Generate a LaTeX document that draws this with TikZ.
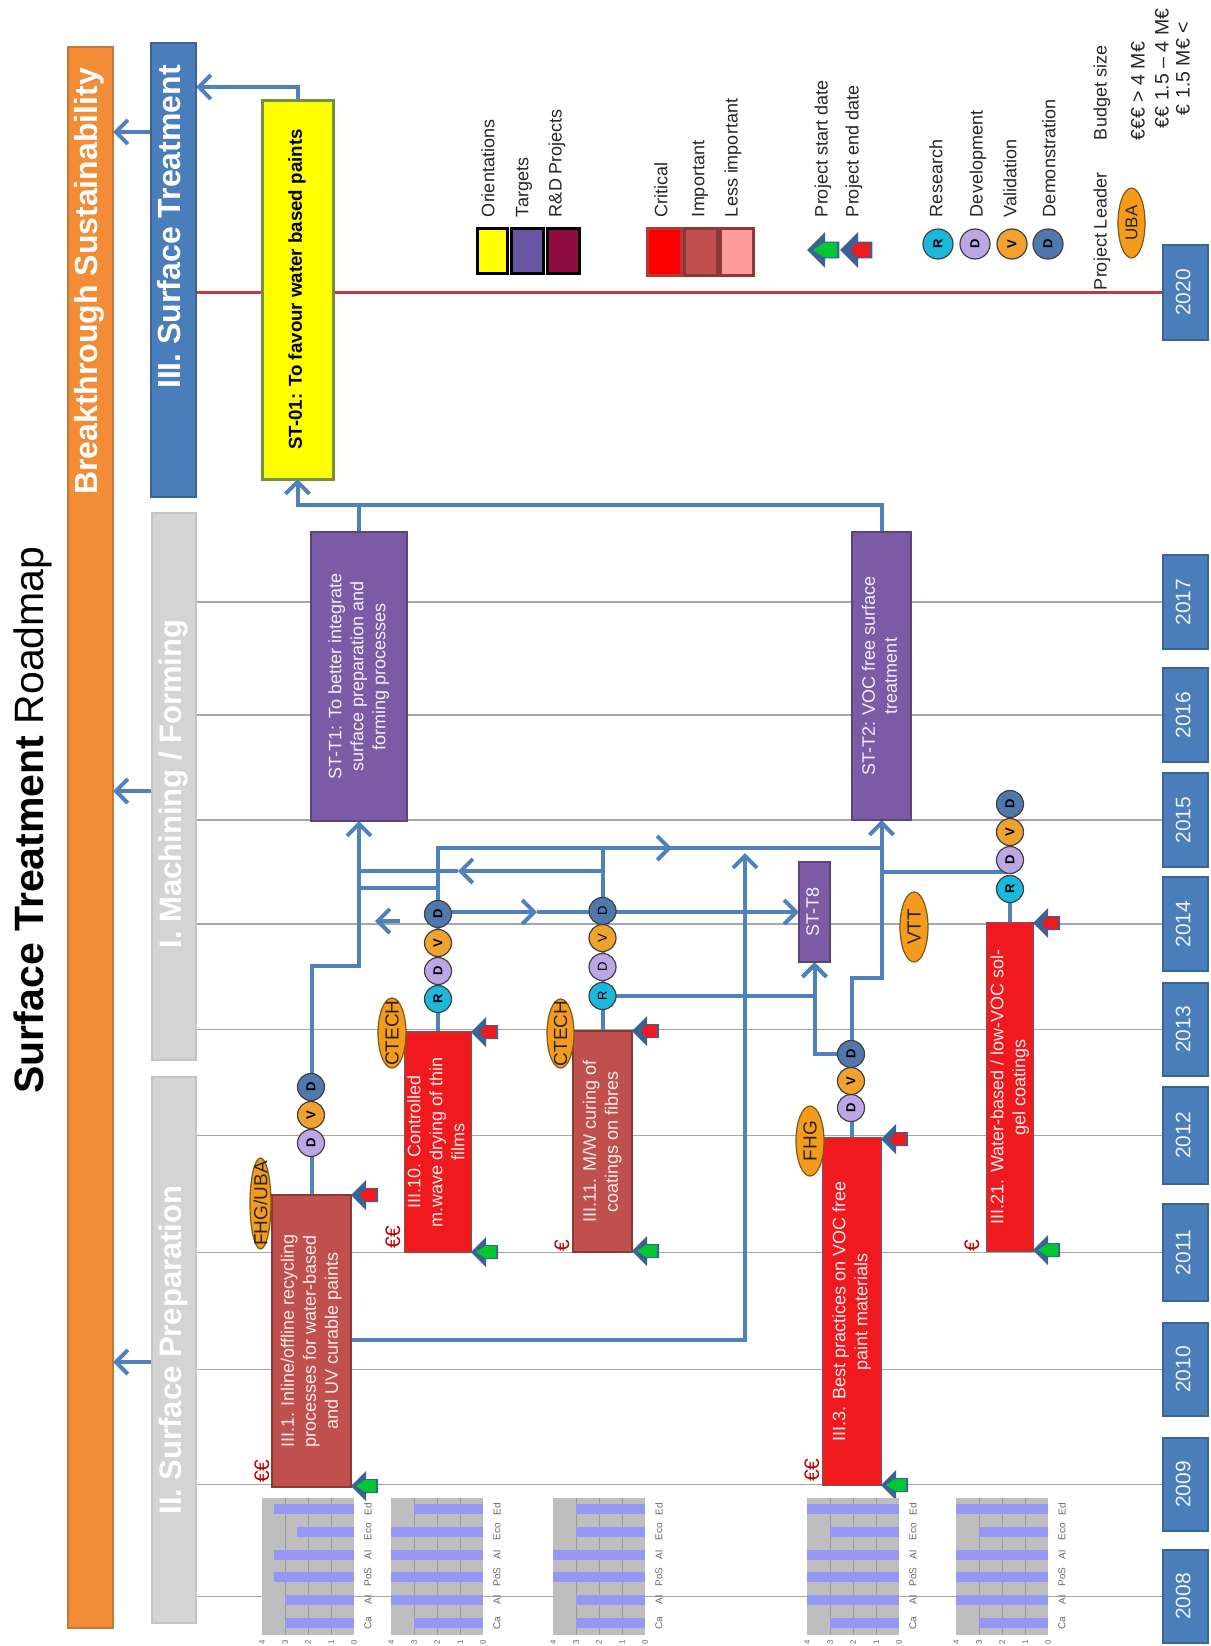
\documentclass[tikz,border=0pt]{standalone}
\usepackage{fontspec}
\usepackage{graphicx}
\setmainfont{Liberation Sans}
\usetikzlibrary{arrows.meta,shapes.geometric,backgrounds}
\definecolor{cblue}{HTML}{4F81BD}
\definecolor{yrblue}{HTML}{4A7EBB}
\definecolor{yrline}{HTML}{3A6491}
\definecolor{corange}{HTML}{F28C36}
\definecolor{corangeb}{HTML}{BF7A3A}
\definecolor{cgrey}{HTML}{D4D4D4}
\definecolor{cgreyb}{HTML}{C4C4C4}
\definecolor{cpurple}{HTML}{7B5BA5}
\definecolor{cpurpleb}{HTML}{5A4478}
\definecolor{cred}{HTML}{F01A1E}
\definecolor{credb}{HTML}{B23A3A}
\definecolor{cmid}{HTML}{C0504D}
\definecolor{cmidb}{HTML}{8C3836}
\definecolor{cpale}{HTML}{FF9A9E}
\definecolor{cyel}{HTML}{FFFF00}
\definecolor{colive}{HTML}{76923C}
\definecolor{cwine}{HTML}{900C3F}
\definecolor{cviol}{HTML}{6A55A5}
\definecolor{loval}{HTML}{F59B1C}
\definecolor{lovalb}{HTML}{7A5A18}
\definecolor{ccyan}{HTML}{1CB8DC}
\definecolor{clil}{HTML}{BCA6E4}
\definecolor{cdark}{HTML}{5078AC}
\definecolor{cvio}{HTML}{F0A22E}
\definecolor{chbg}{HTML}{BEBEBE}
\definecolor{chgr}{HTML}{9A9A9A}
\definecolor{chbar}{HTML}{9696F5}
\definecolor{arrowb}{HTML}{3A6391}
\definecolor{garrow}{HTML}{00C832}
\definecolor{gridc}{HTML}{A6A6A6}
\definecolor{redline}{HTML}{D0343A}
\newcommand\rt[1]{\rotatebox{90}{\begin{tabular}{@{}c@{}}#1\end{tabular}}}
\newcommand\zt[1]{\makebox[0pt][c]{\raisebox{-.5\height}[0pt][0pt]{\rotatebox{90}{#1}}}}
\newcommand\myrect[7]{\node[#6,minimum width={(#4-#2)*1pt},minimum height={(#5-#3)*1pt}] (#1) at ({(#2+#4)/2},{(#3+#5)/2}) {#7};}
\newcommand\lcirc[5]{\node[lettercirc,#4] (#1) at (#2,#3) {\rotatebox{90}{#5}};}
\newcommand\arrowicon[5]{% x y scale inner-colour inner-extent
  \begin{scope}[shift={(#1,#2)},scale=#3]
    \fill[arrowb] (0,0) -- (15,-15) -- (15,-7) -- (27,-7) -- (27,7) -- (15,7) -- (15,15) -- cycle;
    \fill[#4] (#5,0) -- (14,-6) -- (25,-6) -- (25,6) -- (14,6) -- cycle;
  \end{scope}}
\newcommand\startend[3]{\arrowicon{#1}{#2}{1}{garrow}{5}\arrowicon{#1}{#3}{1}{cred}{9}}
\newcommand\ratechart[7]{%
  \fill[chbg] (#1,1498) rectangle ({#1+92},1635);
  \foreach \k in {1,2,3} \draw[chgr,line width=1pt] ({#1+\k*23},1498) -- ({#1+\k*23},1635);
  \foreach \vv/\lab/\yy [count=\i] in {#2/Ed/1509,#3/Eco/1532,#4/Al/1555,#5/PoS/1577,#6/Al/1600,#7/Ca/1623}{
    \fill[chbar] ({#1+92-\vv*23},{\yy-5}) rectangle ({#1+92},{\yy+5});
    \node[charttxt] (lab#1x\i) at ({#1+106},\yy) {\rotatebox{90}{\lab}};
  }
  \foreach \k in {0,...,4}{
    \pgfmathtruncatemacro\kv{4-\k}
    \node[axistxt] (ax#1x\k) at ({#1+\k*23},1642) {\rotatebox{90}{\kv}};
  }}
\tikzset{
  base/.style={inner sep=0pt,outer sep=0pt},
  mainbar/.style={base,draw=#1,line width=2pt,text=white,font=\fontsize{32}{36}\selectfont\bfseries},
  yearbox/.style={base,fill=yrblue,draw=yrline,line width=2pt,text=white!90!yrblue,font=\fontsize{21}{24}\selectfont},
  prj/.style={base,line width=2.5pt,text=white!92!red,font=\fontsize{18}{22}\selectfont},
  critical/.style={prj,fill=cred,draw=credb},
  important/.style={prj,fill=cmid,draw=cmidb},
  targetbox/.style={base,fill=cpurple,draw=cpurpleb,line width=2.5pt,text=white!90!cpurple,font=\fontsize{18}{22}\selectfont},
  swatch/.style={base,line width=3pt},
  lettercirc/.style={circle,base,minimum size=27pt,draw=black!75,line width=1.2pt,font=\fontsize{13}{14}\selectfont\bfseries},
  ccR/.style={fill=ccyan}, ccD/.style={fill=clil}, ccV/.style={fill=cvio}, ccX/.style={fill=cdark},
  leader/.style={ellipse,base,fill=loval,draw=lovalb,line width=1.2pt,font=\fontsize{19}{20}\selectfont,text=black!85},
  euro/.style={base,text=red!75!black,font=\fontsize{21}{22}\selectfont},
  legtxt/.style={base,anchor=south,text=black!85,font=\fontsize{18}{20}\selectfont},
  budgettxt/.style={legtxt,font=\fontsize{19.5}{21}\selectfont},
  charttxt/.style={base,text=black!60,font=\fontsize{10}{11}\selectfont},
  axistxt/.style={base,text=black!60,font=\fontsize{8}{8}\selectfont},
  conn/.style={cblue,line width=4pt},
  connarrow/.style={conn,-{Straight Barb[length=12pt,width=24pt,line width=4pt]}},
  gridline/.style={gridc,line width=1.6pt},
}
\begin{document}
\begin{tikzpicture}[x=1pt,y=-1pt]
\useasboundingbox (0,0) rectangle (1210,1646);
% title and main bars
\node[base,font=\fontsize{41}{44}\selectfont] (title) at (33,820) {\rotatebox{90}{\textbf{Surface Treatment} Roadmap}};
\myrect{bs}{68}{47}{113}{1628}{mainbar=corangeb,fill=corange}{\rt{\hspace*{1112pt}Breakthrough Sustainability}}
\myrect{st}{151}{43}{196}{497}{mainbar=yrline,fill=yrblue}{\rt{\hspace*{86pt}III. Surface Treatment}}
\myrect{mf}{152}{513}{196}{1060}{mainbar=cgreyb,fill=cgrey,font=\fontsize{31}{36}\selectfont\bfseries}{\rt{\hspace*{5pt}I. Machining / Forming}}
\myrect{sp}{152}{1077}{196}{1623}{mainbar=cgreyb,fill=cgrey,font=\fontsize{31}{36}\selectfont\bfseries}{\rt{II. Surface Preparation}}
% years
\myrect{y2008}{1163}{1550}{1208}{1643}{yearbox}{\rt{2008}}
\myrect{y2009}{1163}{1438}{1208}{1531}{yearbox}{\rt{2009}}
\myrect{y2010}{1163}{1323}{1208}{1416}{yearbox}{\rt{2010}}
\myrect{y2011}{1163}{1204}{1208}{1301}{yearbox}{\rt{2011}}
\myrect{y2012}{1163}{1087}{1208}{1184}{yearbox}{\rt{2012}}
\myrect{y2013}{1163}{983}{1208}{1076}{yearbox}{\rt{2013}}
\myrect{y2014}{1163}{877}{1208}{971}{yearbox}{\rt{2014}}
\myrect{y2015}{1163}{773}{1208}{867}{yearbox}{\rt{2015}}
\myrect{y2016}{1163}{668}{1208}{762}{yearbox}{\rt{2016}}
\myrect{y2017}{1163}{555}{1208}{649}{yearbox}{\rt{2017}}
\myrect{y2020}{1163}{245}{1208}{340}{yearbox}{\rt{2020}}
% orientation, targets, projects
\myrect{y1}{262}{100}{333}{479}{base,fill=cyel,draw=colive,line width=3pt,font=\fontsize{18.7}{22}\selectfont\bfseries}{\rt{ST-01: To favour water based paints}}
\myrect{t1}{311}{532}{407}{821}{targetbox}{\rt{ST-T1: To better integrate\\surface preparation and\\forming processes}}
\myrect{t2}{852}{532}{911}{820}{targetbox}{\rt{ST-T2: VOC free surface\\treatment}}
\myrect{t8}{799}{862}{830}{962}{targetbox}{\rt{ST-T8}}
\myrect{p1}{272}{1195}{351}{1487}{important}{\rt{III.1. Inline/offline recycling\\processes for water-based\\and UV curable paints}}
\myrect{p10}{405}{1032}{471}{1252}{critical}{\rt{III.10. Controlled\\m.wave drying of thin\\films}}
\myrect{p11}{573}{1031}{632}{1252}{important}{\rt{III.11. M/W curing of\\coatings on fibres}}
\myrect{p3}{823}{1138}{881}{1485}{critical}{\rt{III.3. Best practices on VOC free\\paint materials}}
\myrect{p21}{987}{923}{1033}{1251}{critical}{\rt{III.21. Water-based / low-VOC sol-\\gel coatings}}
% phase circles
\lcirc{c1a}{311}{1143}{ccD}{D}\lcirc{c1b}{311}{1115}{ccV}{V}\lcirc{c1c}{311}{1087}{ccX}{D}
\lcirc{c10a}{438}{999}{ccR}{R}\lcirc{c10b}{438}{971}{ccD}{D}\lcirc{c10c}{438}{943}{ccV}{V}\lcirc{c10d}{438}{914}{ccX}{D}
\lcirc{c11a}{602.5}{996}{ccR,font=\fontsize{13}{14}\selectfont}{R}\lcirc{c11b}{602.5}{967}{ccD,font=\fontsize{13}{14}\selectfont}{D}\lcirc{c11c}{602.5}{938}{ccV,font=\fontsize{13}{14}\selectfont}{V}\lcirc{c11d}{602.5}{911}{ccX,font=\fontsize{13}{14}\selectfont}{D}
\lcirc{c3a}{851}{1108}{ccD}{D}\lcirc{c3b}{851}{1081}{ccV}{V}\lcirc{c3c}{851}{1054}{ccX}{D}
\lcirc{c21a}{1010}{889}{ccR}{R}\lcirc{c21b}{1010}{860}{ccD}{D}\lcirc{c21c}{1010}{832}{ccV}{V}\lcirc{c21d}{1010}{804}{ccX}{D}
% leaders
\node[leader,minimum width=21pt,minimum height=91pt] (l1) at (260.5,1203.5) {\zt{FHG/UBA}};
\node[leader,minimum width=28pt,minimum height=70pt] (l10) at (392,1033) {\zt{CTECH}};
\node[leader,minimum width=27pt,minimum height=69pt] (l11) at (560.5,1033.5) {\zt{CTECH}};
\node[leader,minimum width=28pt,minimum height=70pt] (l3) at (810,1141) {\zt{FHG}};
\node[leader,minimum width=28pt,minimum height=70pt] (l21) at (914,927) {\zt{VTT}};
\node[leader,minimum width=27pt,minimum height=70pt,font=\fontsize{17}{18}\selectfont] (lleg) at (1131.5,223) {\zt{UBA}};
% budget marks
\node[euro] (e1) at (262,1471) {\rotatebox{90}{€€}};
\node[euro] (e10) at (393,1237) {\rotatebox{90}{€€}};
\node[euro] (e11) at (562,1246) {\rotatebox{90}{€}};
\node[euro] (e3) at (812,1470) {\rotatebox{90}{€€}};
\node[euro] (e21) at (972,1246) {\rotatebox{90}{€}};
% start and end arrows
\startend{351}{1486}{1195}
\startend{471}{1252}{1032}
\startend{632}{1251}{1031}
\startend{881}{1485}{1139}
\startend{1033}{1250}{923}
% charts
\ratechart{262}{3.5}{2.5}{3.5}{3.5}{3}{3}
\ratechart{391}{3}{4}{4}{4}{4}{3}
\ratechart{553}{3}{3}{4}{4}{3}{3}
\ratechart{807}{4}{3}{4}{4}{4}{3}
\ratechart{956}{4}{3}{4}{4}{4}{3}
% legend
\myrect{s1}{477}{228}{507}{273}{swatch,fill=cyel,draw=black}{}
\myrect{s2}{511}{228}{543}{273}{swatch,fill=cviol,draw=black}{}
\myrect{s3}{547}{228}{579}{273}{swatch,fill=cwine,draw=black}{}
\myrect{s4}{647}{228}{681}{275}{swatch,fill=red,draw=credb}{}
\myrect{s5}{684}{228}{717}{275}{swatch,fill=cmid,draw=cmidb}{}
\myrect{s6}{720}{228}{753}{275}{swatch,fill=cpale,draw=cmidb}{}
\node[legtxt] (t01) at (488,217) {\rotatebox{90}{Orientations}};
\node[legtxt] (t02) at (524,217) {\rotatebox{90}{Targets}};
\node[legtxt] (t03) at (557,217) {\rotatebox{90}{R\&D Projects}};
\node[legtxt] (t04) at (661,217) {\rotatebox{90}{Critical}};
\node[legtxt] (t05) at (700,217) {\rotatebox{90}{Important}};
\node[legtxt] (t06) at (733,217) {\rotatebox{90}{Less important}};
\node[legtxt] (t07) at (823,217) {\rotatebox{90}{Project start date}};
\node[legtxt] (t08) at (854,217) {\rotatebox{90}{Project end date}};
\node[legtxt] (t09) at (936,217) {\rotatebox{90}{Research}};
\node[legtxt] (t10) at (978,217) {\rotatebox{90}{Development}};
\node[legtxt] (t11) at (1010,217) {\rotatebox{90}{Validation}};
\node[legtxt] (t12) at (1049,217) {\rotatebox{90}{Demonstration}};
\node[legtxt] (t13) at (1102,290) {\rotatebox{90}{Project Leader}};
\node[legtxt] (t14) at (1102,140) {\rotatebox{90}{Budget size}};
\node[budgettxt] (t15) at (1138,140) {\rotatebox{90}{€€€ > 4 M€}};
\node[budgettxt] (t16) at (1162,128) {\rotatebox{90}{€€ 1.5 – 4 M€}};
\node[budgettxt] (t17) at (1183,115) {\rotatebox{90}{€ 1.5 M€ <}};
\arrowicon{807}{250}{1.2}{garrow}{5}
\arrowicon{840}{250}{1.2}{cred}{9}
\node[lettercirc,ccR,minimum size=30pt] (lgr) at (938,244) {\rotatebox{90}{R}};
\node[lettercirc,ccD,minimum size=30pt] (lgd) at (975,244) {\rotatebox{90}{D}};
\node[lettercirc,ccV,minimum size=30pt] (lgv) at (1012,244) {\rotatebox{90}{V}};
\node[lettercirc,ccX,minimum size=30pt] (lgx) at (1048,244) {\rotatebox{90}{D}};
% free connector ends
\coordinate (jend) at (745,853);
\coordinate (k1) at (400,921);
\coordinate (k2) at (375,921);
\coordinate (m1) at (672,848);
\coordinate (m2) at (458,871);
\coordinate (m3) at (537,912);
% everything that runs behind the boxes
\begin{scope}[on background layer]
\fill[white] (0,0) rectangle (1210,1646);
\foreach \yy in {2008,2009,2010,2011,2012,2013,2014,2015,2016,2017}
  \draw[gridline] (y\yy.west) -- (mf.east |- y\yy.west);
\draw[redline,line width=3pt] (st.east |- y2020.west) -- (y2020.west);
% upward to the orientation and the programme
\draw[connarrow] (y1.north) -- (y1.north |- 0,87) -- (st.east |- 0,87);
\draw[connarrow] (st.west |- 0,132) -- (bs.east |- 0,132);
\draw[connarrow] (mf.west |- 0,791) -- (bs.east |- 0,791);
\draw[connarrow] (sp.west |- 0,1362) -- (bs.east |- 0,1362);
\draw[conn] (t2.north) -- (t2.north |- 0,505) -- (y1.south |- 0,505);
\draw[connarrow] (t1.north) -- (t1.north |- 0,505) -- (y1.south |- 0,505) -- (y1.south);
% projects to targets
\draw[connarrow] (p1.north) -- (p1.north |- 0,966) -- (t1.south |- 0,966) -- (t1.south);
\draw[conn] (p10.north) -- (p10.north |- 0,848) -- (m1);
\draw[connarrow] (p10.north |- 0,848) -- (m1);
\draw[conn] (m1) -- (t2.south |- 0,848);
\draw[conn] (p11.north) -- (p11.north |- 0,848);
\draw[conn] (t1.south |- 0,888) -- (p10.north |- 0,888);
\draw[connarrow] (p11.north |- 0,871) -- (m2);
\draw[conn] (m2) -- (t1.south |- 0,871);
\draw[connarrow] (c10d.east |- t8.west) -- (m3);
\draw[conn] (m3) -- (c11d.west |- t8.west);
\draw[connarrow] (c11d.east |- t8.west) -- (t8.west);
\draw[connarrow] (c11a.east) -- (t8.south |- c11a.east) -- (t8.south);
\draw[connarrow] (c3c.west) -- (t8.south |- c3c.west) -- (t8.south);
\draw[connarrow] (p3.north) -- (p3.north |- 0,978) -- (t2.south |- 0,978) -- (t2.south);
\draw[conn] (p21.north |- 0,872) -- (t2.south |- 0,872);
\draw[conn] (p21.north) -- (c21a.south);
\draw[connarrow] (p1.east |- 0,1340) -- (jend |- 0,1340) -- (jend);
\draw[connarrow,line width=3.5pt] (k1) -- (k2);
\end{scope}
\end{tikzpicture}
\end{document}
